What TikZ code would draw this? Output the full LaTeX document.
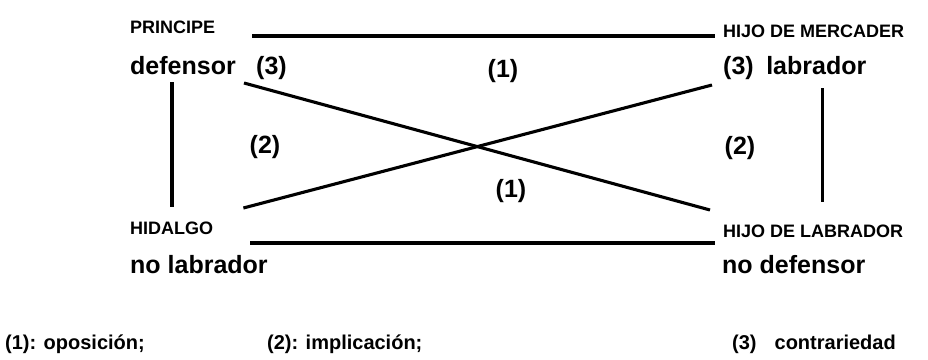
\documentclass[tikz,border=0pt]{standalone}
\usepackage{fontspec}
\setmainfont{Liberation Sans}
\usetikzlibrary{calc}

\begin{document}
\begin{tikzpicture}[x=1pt,y=-1pt,
  term/.style={anchor=base west,inner sep=0pt,font=\fontsize{25}{30}\selectfont\bfseries},
  role/.style={anchor=base west,inner sep=0pt,font=\fontsize{18}{22}\selectfont\bfseries},
  rel/.style={inner sep=0pt,font=\fontsize{25}{30}\selectfont\bfseries},
  legend/.style={anchor=base west,inner sep=0pt,font=\fontsize{20}{24}\selectfont\bfseries},
  rule/.style={line width=3.1pt}
]
\useasboundingbox (0,0) rectangle (928,359);

% corners of the square
\node[role] (pri) at (130,33) {PRINCIPE};
\node[term] (def) at (130,74) {defensor};
\node[term] (c3a) at (256,74) {(3)};
\node[role] (mer) at (723,37) {HIJO DE MERCADER};
\node[term] (lab) at (723,74) {(3)\hspace{0.5em}labrador};
\node[role] (hid) at (130,234) {HIDALGO};
\node[term] (nolab) at (130,273) {no labrador};
\node[role] (hlab) at (723,237) {HIJO DE LABRADOR};
\node[term] (nodef) at (722,273) {no defensor};

% relation marks
\node[rel] (o1a) at (503,71) {(1)};
\node[rel] (i2a) at (265,147) {(2)};
\node[rel] (i2b) at (740,148) {(2)};
\node[rel] (o1b) at (511,191) {(1)};

% sides and diagonals
\draw[rule] ($(pri.base -| c3a.west)+(-4,3)$) -- ($(pri.base -| mer.west)+(-8,3)$);
\draw[rule] ($(hid.base -| c3a.west)+(-6,9)$) -- ($(hid.base -| mer.west)+(-8,9)$);
\draw[rule] ($(def.base)+(-11,8)$) -- ($(def.base |- hid.base)+(-11,-27)$);
\draw[rule] ($(lab.base)+(27.5,14)$) -- ($(lab.base |- hlab.base)+(27.5,-35)$);
\draw[rule] ($(def.base east)+(8,9)$) -- ($(hlab.base west)+(-13,-27)$);
\draw[rule] ($(hid.base east)+(30,-26)$) -- ($(lab.base west)+(-11,11)$);

% key
\node[legend] (k1) at (5,349) {(1): oposición;};
\node[legend] (k2) at (267,349) {(2): implicación;};
\node[legend] (k3) at (732,349) {(3)\hspace{18pt}contrariedad};
\end{tikzpicture}
\end{document}
